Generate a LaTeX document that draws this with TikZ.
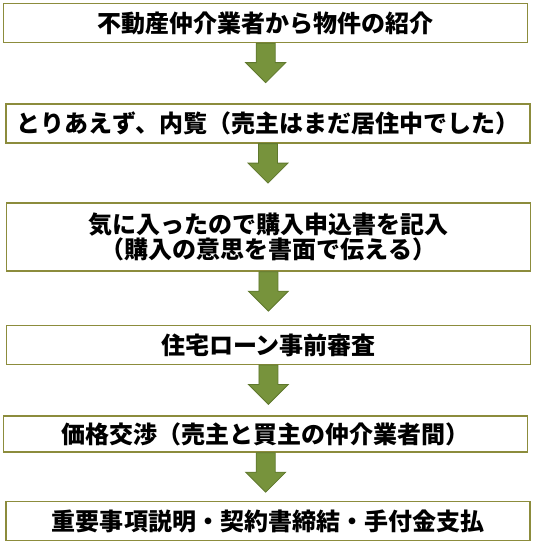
\documentclass[tikz,border=0pt]{standalone}
\usepackage{fontspec}
\usepackage{tikz}
\usepackage{xcolor}
\usetikzlibrary{calc}
\newfontfamily\jpfont{Noto Sans CJK JP}
\definecolor{boxline}{RGB}{140,140,60}
\definecolor{arrowfill}{RGB}{119,147,60}
\definecolor{arrowline}{RGB}{95,120,45}
\tikzset{
	stepbox/.style={draw=boxline, line width=1.3bp, fill=white, inner sep=0pt,
		minimum width=524bp, align=center,
		font=\jpfont\bfseries\fontsize{24bp}{25.5bp}\selectfont},
	blockarrow/.style={fill=arrowfill, draw=arrowline, line width=0.8bp, line join=miter}
}

\begin{document}
\begin{tikzpicture}[x=1bp,y=-1bp]
	%\draw [help lines] (0,0) grid (534,550);
	\useasboundingbox (0,0) rectangle (534,550);
	
	%BOXES
	\node[stepbox, minimum height=39bp] (b1) at (265.7,23) {不動産仲介業者から物件の紹介};
	\node[stepbox, minimum height=39bp] (b2) at (268,123.5) {とりあえず、内覧（売主はまだ居住中でした）};
	\node[stepbox, minimum height=68bp] (b3) at (268.4,237) {気に入ったので購入申込書を記入\\（購入の意思を書面で伝える）};
	\node[stepbox, minimum height=38.5bp] (b4) at (268.4,345) {住宅ローン事前審査};
	\node[stepbox, minimum height=36bp] (b5) at (265.7,434) {価格交渉（売主と買主の仲介業者間）};
	\node[stepbox, minimum height=38.5bp] (b6) at (268,521) {重要事項説明・契約書締結・手付金支払};
	
	%ARROWS
	\foreach \a in {b1,b2,b3,b4,b5}
		\filldraw[blockarrow] ($(\a.south)+(-9.5,0)$) -- ++(0,19.5) -- ++(-10.5,0)
			-- ++(20,20) -- ++(20,-20) -- ++(-10.5,0) -- ++(0,-19.5) -- cycle;
	
\end{tikzpicture}
\end{document}
